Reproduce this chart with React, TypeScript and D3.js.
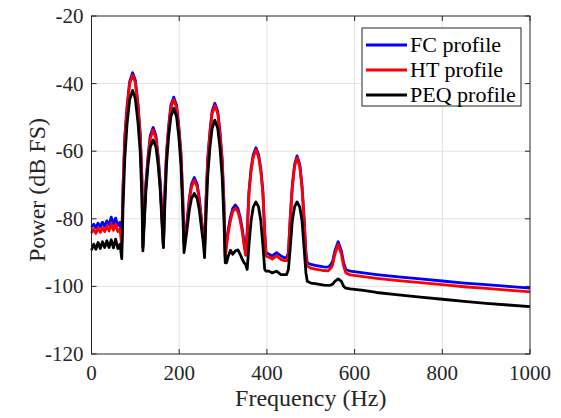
import React from 'react';
import * as d3 from 'd3';

// frequency points (Hz), shared by the three spectra
const freqHz = [
  0, 5, 10, 15, 20, 25, 30, 35, 40, 45, 50, 55, 60, 65, 69,
  72, 76, 81, 87, 93.75, 100, 106, 111, 115, 117.2,
  120, 124, 129, 134, 140.6, 147, 152, 157, 161, 164,
  167, 171, 176, 181, 187.5, 194, 199, 204, 208, 211,
  214, 218, 223, 228, 234.4, 241, 246, 251, 255, 257.8,
  261, 265, 270, 275, 281.25, 288, 293, 298, 302, 305,
  308, 312, 317, 322, 328.1, 334, 339, 344, 348, 351.5,
  355, 359, 364, 369, 375, 381, 386, 391, 395, 398,
  405, 412, 422, 432, 440, 445,
  449, 453, 458, 463, 468.75, 475, 480, 485, 489, 492,
  500, 510, 520, 530, 540, 546,
  550, 555, 562.5, 570, 575, 580,
  590, 620, 650, 700, 750, 800, 850, 900, 950, 1000,
];

const fcProfile = [
  -82.5, -81.6, -82.6, -81.3, -82.4, -81, -82.2, -80.6, -81.8, -79.5, -81.5, -79.8, -82, -81, -86,
  -70, -55.5, -46.8, -39.4, -36.8, -39, -46, -54.5, -68, -88,
  -80, -69.5, -61.5, -55.4, -53, -55.4, -61.5, -69.5, -80, -88,
  -73, -60.5, -52.5, -46.4, -44, -46.4, -52.5, -60.5, -73, -87,
  -85, -80.5, -74, -69.8, -67.8, -69.8, -74, -80.5, -85, -89,
  -75, -62.3, -54.3, -48.2, -45.8, -48.2, -54.3, -62.3, -75, -91,
  -87, -83, -79.5, -77, -75.9, -77, -79.5, -83, -87, -90,
  -84, -72, -65, -61, -59, -61, -65, -72, -84, -90,
  -90.5, -91, -90, -91, -91.5, -91.5,
  -90, -80, -70, -64, -61.4, -64, -70, -80, -90, -93,
  -93.5, -93.8, -94, -94.2, -94.3, -93.5,
  -92.5, -89.5, -86.8, -89.5, -93, -95,
  -95.5, -96, -96.5, -97.2, -97.8, -98.4, -99, -99.5, -100, -100.5,
];

const htProfile = [
  -84.2, -83, -84.3, -82.8, -84, -82.6, -83.8, -82.2, -83.6, -81.4, -83.4, -81.6, -83.8, -83, -88,
  -71, -56.3, -47.5, -40.1, -37.5, -39.7, -46.7, -55.2, -68.8, -88.5,
  -80.8, -70.3, -62.3, -56.2, -53.8, -56.2, -62.3, -70.3, -80.8, -88.5,
  -73.8, -61.2, -53.2, -47.1, -44.7, -47.1, -53.2, -61.2, -73.8, -87.5,
  -85.8, -81.3, -74.8, -70.6, -68.6, -70.6, -74.8, -81.3, -85.8, -89.5,
  -75.7, -63, -55, -48.9, -46.5, -48.9, -55, -63, -75.7, -91.5,
  -88, -84, -80.4, -77.9, -76.8, -77.9, -80.4, -84, -88, -90.8,
  -84.8, -72.8, -65.7, -61.7, -59.6, -61.7, -65.7, -72.8, -84.8, -91,
  -91.4, -91.9, -91, -92, -92.4, -92.4,
  -91, -80.8, -70.7, -64.6, -61.9, -64.6, -70.7, -80.8, -91, -94,
  -94.6, -94.9, -95.1, -95.3, -95.4, -94.6,
  -93.6, -90.5, -87.6, -90.5, -94, -96,
  -96.6, -97.1, -97.6, -98.3, -98.9, -99.5, -100.1, -100.6, -101.1, -101.6,
];

const peqProfile = [
  -89.3, -87.5, -89, -87, -88.8, -86.8, -88.5, -86.5, -88.5, -86.2, -88.6, -86, -88.8, -87.5, -91.8,
  -76, -62, -52, -44.8, -42, -44.5, -51.5, -60, -74, -89.5,
  -82, -72, -64, -58.8, -56.7, -58.8, -64, -72, -82, -88.5,
  -77, -64, -55.5, -49.8, -47.3, -49.8, -55.5, -64, -77, -90,
  -87, -83, -77.5, -74, -72.5, -74, -77.5, -83, -87, -91.5,
  -80, -67.5, -59, -53.3, -50.8, -53.3, -59, -67.5, -80, -93,
  -93, -91, -89.3, -90.5, -89.5, -89.2, -90.5, -92, -93, -93.5,
  -95, -88, -80.5, -76.5, -75, -76.5, -80.5, -88, -95, -95.5,
  -95.5, -96, -95.5, -96.5, -96.5, -96.5,
  -95, -89, -80.5, -76.5, -75, -76.5, -80.5, -89, -96, -98.5,
  -99, -99.2, -99.4, -99.6, -99.7, -99.6,
  -99.3, -98.5, -97.8, -98.5, -100, -100.5,
  -100.7, -101.2, -101.8, -102.5, -103.2, -103.8, -104.4, -105, -105.5, -106,
];

const seriesNames = ['FC profile', 'HT profile', 'PEQ profile'];
const xTicks = [0, 200, 400, 600, 800, 1000];
const yTicks = [-120, -100, -80, -60, -40, -20];

const colors = ['#0000ff', '#ff0000', '#000000'];
const W = 561, H = 418;
const margin = { t: 16, r: 31, b: 64, l: 91.5 };
const font = "'Liberation Serif', 'Times New Roman', Times, serif";
const axisColor = '#262626';

const App = () => {
  const x = d3.scaleLinear().domain([0, 1000]).range([margin.l, W - margin.r]);
  const y = d3.scaleLinear().domain([-120, -20]).range([H - margin.b, margin.t]);

  const series = [fcProfile, htProfile, peqProfile].map(vals =>
    freqHz.map((f, i) => [f, vals[i]] as [number, number]).filter(d => d[1] !== undefined)
  );

  const lineGen = d3.line<[number, number]>()
    .x(d => x(d[0]))
    .y(d => y(d[1]));

  const x0 = x(0), x1 = x(1000), y0 = y(-120), y1 = y(-20);
  const tick = 5;

  return (
    <svg width={W} height={H} style={{ position: 'absolute', left: 0, top: 0, background: '#fff', fontFamily: font }}>
      {/* grid */}
      <g stroke="#e2e2e2" strokeWidth={1}>
        {xTicks.slice(1, -1).map(t => (
          <line key={'gx' + t} x1={x(t)} x2={x(t)} y1={y1} y2={y0} />
        ))}
        {yTicks.slice(1, -1).map(t => (
          <line key={'gy' + t} x1={x0} x2={x1} y1={y(t)} y2={y(t)} />
        ))}
      </g>

      {/* spectra */}
      <g fill="none" strokeWidth={2.8} strokeLinejoin="round">
        {series.map((s, i) => (
          <path key={seriesNames[i]} d={lineGen(s) || ''} stroke={colors[i]} />
        ))}
      </g>

      {/* box + ticks */}
      <g stroke={axisColor} strokeWidth={1} fill="none">
        <rect x={x0} y={y1} width={x1 - x0} height={y0 - y1} />
        {xTicks.map(t => (
          <g key={'tx' + t}>
            <line x1={x(t)} x2={x(t)} y1={y0} y2={y0 - tick} />
            <line x1={x(t)} x2={x(t)} y1={y1} y2={y1 + tick} />
          </g>
        ))}
        {yTicks.map(t => (
          <g key={'ty' + t}>
            <line x1={x0} x2={x0 + tick} y1={y(t)} y2={y(t)} />
            <line x1={x1} x2={x1 - tick} y1={y(t)} y2={y(t)} />
          </g>
        ))}
      </g>

      {/* tick labels */}
      <g style={{ fontFamily: font }} fontSize={21} fill={axisColor}>
        {xTicks.map(t => (
          <text key={'lx' + t} x={x(t)} y={y0 + 26} textAnchor="middle">{t}</text>
        ))}
        {yTicks.map(t => (
          <text key={'ly' + t} x={x0 - 8} y={y(t) + 7} textAnchor="end">{t}</text>
        ))}
      </g>

      {/* axis labels */}
      <text x={(x0 + x1) / 2} y={y0 + 52} textAnchor="middle" style={{ fontFamily: font }} fontSize={24} fill={axisColor}>
        Frequency (Hz)
      </text>
      <text
        transform={`translate(${x0 - 47},${(y0 + y1) / 2 + 5}) rotate(-90)`}
        textAnchor="middle" style={{ fontFamily: font }} fontSize={24} fill={axisColor}
      >
        Power (dB FS)
      </text>

      {/* legend */}
      <g transform="translate(362,28)">
        <rect x={0} y={0} width={159} height={78} fill="#fff" stroke={axisColor} strokeWidth={1} />
        {seriesNames.map((name, i) => (
          <g key={name} transform={`translate(0,${17 + i * 25})`}>
            <line x1={4} x2={45} y1={0} y2={0} stroke={colors[i]} strokeWidth={2.8} />
            <text x={48} y={7} style={{ fontFamily: font }} fontSize={22} fill="#000">{name}</text>
          </g>
        ))}
      </g>
    </svg>
  );
};

export default App;
